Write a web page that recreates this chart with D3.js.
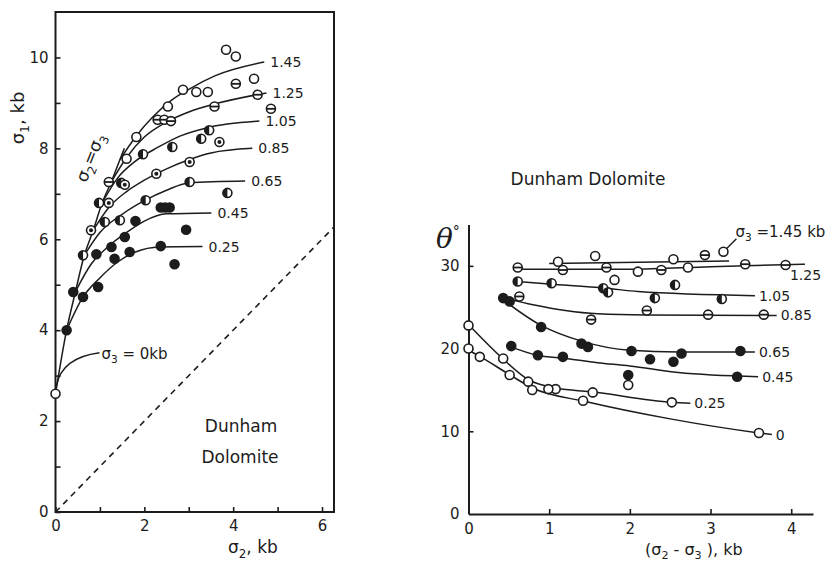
<!DOCTYPE html>
<html>
<head>
<meta charset="utf-8">
<script src="https://cdn.jsdelivr.net/npm/d3@7/dist/d3.min.js"></script>
<style>
  body { margin: 0; background: #fff; }
  text { font-family: "DejaVu Sans", sans-serif; fill: #1c1c1c; }
  .tick text { font-size: 15px; }
</style>
</head>
<body>
<svg id="chart" width="826" height="565"></svg>
<script>
// ---- left panel: sigma1 vs sigma2 for each sigma3 (kb) ----
const leftLevels = ["1.45", "1.25", "1.05", "0.85", "0.65", "0.45", "0.25"];
const leftMarkers = ["open", "bar", "half", "dot", "half", "filled", "filled"];

// hand-fitted curves [sigma2, sigma1]
const leftFits = [
  [[1.45, 7.75], [1.8, 8.25], [2.2, 8.7], [2.6, 9.05], [3.0, 9.3], [3.6, 9.6], [4.7, 9.9]],
  [[1.25, 7.25], [1.6, 7.8], [2.0, 8.25], [2.5, 8.58], [3.0, 8.8], [3.6, 8.98], [4.75, 9.22]],
  [[1.05, 6.8], [1.4, 7.35], [1.8, 7.72], [2.3, 8.02], [2.8, 8.27], [3.4, 8.45], [4.59, 8.6]],
  [[0.85, 6.2], [1.2, 6.7], [1.6, 7.05], [2.0, 7.3], [2.5, 7.55], [3.0, 7.75], [3.5, 7.9], [4.43, 8.0]],
  [[0.65, 5.65], [1.0, 6.15], [1.5, 6.55], [2.0, 6.85], [2.5, 7.08], [3.0, 7.24], [4.27, 7.28]],
  [[0.45, 4.85], [0.8, 5.45], [1.2, 5.85], [1.6, 6.15], [2.0, 6.4], [2.5, 6.56], [3.51, 6.58]],
  [[0.25, 4.0], [0.6, 4.7], [1.0, 5.15], [1.4, 5.5], [1.8, 5.72], [2.35, 5.83], [3.31, 5.84]]
];

// observed points [sigma2, sigma1]
const leftObs = [
  [[1.6, 7.77], [1.82, 8.25], [2.53, 8.92], [2.87, 9.29], [3.17, 9.24], [3.43, 9.24], [3.84, 10.17], [4.06, 10.02], [4.47, 9.53]],
  [[1.2, 7.26], [2.3, 8.63], [2.45, 8.63], [2.6, 8.6], [3.58, 8.92], [4.06, 9.42], [4.55, 9.18], [4.85, 8.87]],
  [[0.98, 6.8], [1.48, 7.24], [1.97, 7.87], [2.63, 8.03], [3.28, 8.21], [3.46, 8.4]],
  [[0.8, 6.2], [1.2, 6.8], [1.56, 7.2], [2.27, 7.44], [3.02, 7.7], [3.69, 8.14]],
  [[0.62, 5.65], [1.11, 6.38], [1.45, 6.42], [2.03, 6.86], [3.02, 7.26], [3.87, 7.02]],
  [[0.4, 4.84], [0.92, 5.67], [1.26, 5.83], [1.56, 6.05], [1.8, 6.4], [2.37, 6.7], [2.47, 6.7], [2.57, 6.7], [2.94, 6.21]],
  [[0.25, 4.0], [0.62, 4.73], [0.96, 4.95], [1.33, 5.57], [1.67, 5.72], [2.37, 5.85], [2.68, 5.45]]
];

// sigma2 = sigma3 envelope and uniaxial point
const envelope = [[0, 2.6], [0.25, 4.0], [0.45, 4.85], [0.65, 5.65], [0.85, 6.2], [1.05, 6.8], [1.25, 7.25], [1.45, 7.75], [1.55, 8.0]];
const uniaxial = [[0, 2.6]];

// ---- right panel: theta vs (sigma2 - sigma3) ----
const rightLevels = ["1.45", "1.25", "1.05", "0.85", "0.65", "0.45", "0.25", "0"];
const rightMarkers = ["open", "bar", "half", "bar", "filled", "filled", "open", "open"];

const rightFits = [
  [[1.0, 30.3], [3.23, 30.6]],
  [[0.6, 29.6], [2.0, 29.6], [3.0, 29.9], [4.17, 30.2]],
  [[0.6, 28.1], [1.0, 27.8], [1.7, 27.3], [2.1, 26.9], [3.55, 26.4]],
  [[0.4, 26.2], [0.8, 25.3], [1.2, 24.6], [1.6, 24.2], [2.2, 24.05], [3.82, 24.0]],
  [[0.4, 26.1], [0.9, 22.8], [1.4, 20.9], [2.0, 19.8], [2.6, 19.6], [3.55, 19.6]],
  [[0.5, 20.3], [0.85, 19.2], [1.2, 18.8], [1.6, 18.3], [2.0, 17.9], [2.6, 17.1], [3.59, 16.6]],
  [[0, 22.9], [0.4, 19.0], [0.75, 16.2], [1.1, 15.2], [1.5, 14.8], [2.52, 13.5], [2.75, 13.4]],
  [[0, 19.8], [0.15, 19.0], [0.5, 16.9], [0.8, 15.2], [1.45, 13.6], [2.5, 11.5], [3.6, 9.8], [3.76, 9.6]]
];

const rightObs = [
  [[1.11, 30.5], [1.57, 31.2], [2.54, 30.8], [2.1, 29.3], [1.81, 28.3], [2.72, 29.8], [3.16, 31.7]],
  [[0.61, 29.8], [1.17, 29.5], [1.71, 29.8], [2.39, 29.5], [2.93, 31.3], [3.43, 30.2], [3.93, 30.1]],
  [[0.61, 28.1], [1.03, 27.9], [1.67, 27.3], [1.73, 26.8], [2.56, 27.7], [2.31, 26.1], [3.14, 26.0]],
  [[0.63, 26.3], [1.52, 23.5], [2.21, 24.6], [2.97, 24.1], [3.66, 24.1]],
  [[0.43, 26.1], [0.51, 25.7], [0.9, 22.6], [1.4, 20.6], [1.48, 20.2], [2.02, 19.7], [2.25, 18.7], [2.54, 18.4], [2.64, 19.4], [3.37, 19.7]],
  [[0.53, 20.3], [0.86, 19.2], [1.17, 19.0], [1.98, 16.8], [3.33, 16.6]],
  [[0, 22.8], [0.43, 18.8], [0.74, 16.0], [1.08, 15.1], [1.54, 14.7], [1.98, 15.6], [2.52, 13.5]],
  [[0, 20.0], [0.14, 19.0], [0.51, 16.8], [0.79, 15.0], [0.99, 15.1], [1.42, 13.7], [3.6, 9.8]]
];

const leftXTicks = [0, 2, 4, 6];
const leftYTicks = [0, 2, 4, 6, 8, 10];
const rightXTicks = [0, 1, 2, 3, 4];
const rightYTicks = [0, 10, 20, 30];

const ink = "#1c1c1c";
const svg = d3.select("#chart");
svg.append("rect").attr("width", 826).attr("height", 565).attr("fill", "#fff");

// marker glyphs
function drawMarker(g, cx, cy, type, r) {
  const m = g.append("g").attr("transform", `translate(${cx},${cy})`);
  m.append("circle")
    .attr("r", r)
    .attr("fill", type === "filled" ? ink : "#fff")
    .attr("stroke", ink)
    .attr("stroke-width", 1.6);
  if (type === "half") {
    m.append("path")
      .attr("d", d3.arc()({ innerRadius: 0, outerRadius: r, startAngle: Math.PI, endAngle: 2 * Math.PI }))
      .attr("fill", ink);
  } else if (type === "bar") {
    m.append("line").attr("x1", -r).attr("x2", r).attr("stroke", ink).attr("stroke-width", 1.8);
  } else if (type === "dot") {
    m.append("circle").attr("r", r * 0.45).attr("fill", ink);
  }
}

// text with subscripts, parts = [[text, isSub], ...]
function richText(g, x, y, parts, size) {
  const t = g.append("text").attr("x", x).attr("y", y).style("font-size", size + "px");
  let shift = 0;
  parts.forEach(([s, sub]) => {
    const target = sub ? size * 0.28 : 0;
    const ts = t.append("tspan").text(s).attr("dy", target - shift);
    if (sub) ts.style("font-size", size * 0.7 + "px");
    shift = target;
  });
  return t;
}

// ======== LEFT PANEL ========
const xL = d3.scaleLinear().domain([0, 6.27]).range([55.5, 334]);
const yL = d3.scaleLinear().domain([0, 11]).range([512, 12]);
const gL = svg.append("g");

// frame
gL.append("rect")
  .attr("x", xL(0)).attr("y", yL(11))
  .attr("width", xL(6.27) - xL(0)).attr("height", yL(0) - yL(11))
  .attr("fill", "none").attr("stroke", ink).attr("stroke-width", 2);

const lxAxis = gL.append("g").attr("transform", `translate(0,${yL(0)})`)
  .call(d3.axisBottom(xL).tickValues(leftXTicks).tickSize(-5).tickPadding(8).tickFormat(d3.format("d")));
const lxMinor = gL.append("g").attr("transform", `translate(0,${yL(0)})`)
  .call(d3.axisBottom(xL).tickValues([1, 3, 5]).tickSize(-5).tickFormat(""));
const lyAxis = gL.append("g").attr("transform", `translate(${xL(0)},0)`)
  .call(d3.axisLeft(yL).tickValues(leftYTicks).tickSize(-5).tickPadding(7).tickFormat(d3.format("d")));
const lyMinor = gL.append("g").attr("transform", `translate(${xL(0)},0)`)
  .call(d3.axisLeft(yL).tickValues([1, 3, 5, 7, 9]).tickSize(-5).tickFormat(""));
[lxAxis, lxMinor, lyAxis, lyMinor].forEach(a => {
  a.select(".domain").remove();
  a.selectAll(".tick line").attr("stroke", ink).attr("stroke-width", 1.6);
  a.selectAll("text").attr("fill", ink).style("font-family", "DejaVu Sans");
});

// sigma1 = sigma2 dashed line
gL.append("line")
  .attr("x1", xL(0)).attr("y1", yL(0))
  .attr("x2", xL(6.27)).attr("y2", yL(6.27))
  .attr("stroke", ink).attr("stroke-width", 1.6).attr("stroke-dasharray", "6,5");

const lineL = d3.line().x(d => xL(d[0])).y(d => yL(d[1])).curve(d3.curveMonotoneX);
const lineLv = d3.line().x(d => xL(d[0])).y(d => yL(d[1])).curve(d3.curveCatmullRom);

gL.append("path").datum(envelope)
  .attr("d", lineLv).attr("fill", "none").attr("stroke", ink).attr("stroke-width", 1.5);

leftFits.forEach((fit, i) => {
  gL.append("path").datum(fit)
    .attr("d", lineL).attr("fill", "none").attr("stroke", ink).attr("stroke-width", 1.5);
  const end = fit[fit.length - 1];
  gL.append("text")
    .attr("x", xL(end[0]) + 6).attr("y", yL(end[1]) + 5)
    .style("font-size", "14px").text(leftLevels[i]);
});

leftObs.forEach((pts, i) => {
  pts.forEach(p => drawMarker(gL, xL(p[0]), yL(p[1]), leftMarkers[i], 4.5));
});
uniaxial.forEach(p => drawMarker(gL, xL(p[0]), yL(p[1]), "open", 4.5));

// sigma3 = 0 kb annotation
const u0 = [xL(uniaxial[0][0]), yL(uniaxial[0][1])];
gL.append("path")
  .attr("d", `M${u0[0] + 1},${u0[1] - 8} Q${u0[0] + 6},${u0[1] - 36} ${u0[0] + 44},${u0[1] - 41}`)
  .attr("fill", "none").attr("stroke", ink).attr("stroke-width", 1.4);
richText(gL, u0[0] + 46, u0[1] - 35, [["σ", false], ["3", true], [" = 0kb", false]], 15);

// sigma2 = sigma3 label along envelope
const envLbl = richText(gL, 0, 0, [["σ", false], ["2", true], ["=σ", false], ["3", true]], 17);
envLbl.attr("text-anchor", "middle")
  .attr("transform", `translate(${xL(0.95) - 2},${yL(7.75)}) rotate(-68)`);

// axis titles
const yTitle = richText(gL, 0, 0, [["σ", false], ["1", true], [", kb", false]], 18);
yTitle.attr("text-anchor", "middle").attr("transform", "translate(24,118) rotate(-90)");
richText(gL, 228, 553, [["σ", false], ["2", true], [", kb", false]], 17);

gL.append("text").attr("x", 241).attr("y", 432).attr("text-anchor", "middle")
  .style("font-size", "17px").text("Dunham");
gL.append("text").attr("x", 240).attr("y", 463).attr("text-anchor", "middle")
  .style("font-size", "17px").text("Dolomite");

// ======== RIGHT PANEL ========
const xR = d3.scaleLinear().domain([0, 4.27]).range([468.5, 813]);
const yR = d3.scaleLinear().domain([0, 35]).range([514, 224.5]);
const gR = svg.append("g");

const rxAxis = gR.append("g").attr("transform", `translate(0,${yR(0)})`)
  .call(d3.axisBottom(xR).tickValues(rightXTicks).tickSize(-5).tickSizeOuter(0).tickPadding(9).tickFormat(d3.format("d")));
const ryAxis = gR.append("g").attr("transform", `translate(${xR(0)},0)`)
  .call(d3.axisLeft(yR).tickValues(rightYTicks).tickSize(-5).tickSizeOuter(0).tickPadding(9).tickFormat(d3.format("d")));
[rxAxis, ryAxis].forEach(a => {
  a.select(".domain").attr("stroke", ink).attr("stroke-width", 2);
  a.selectAll(".tick line").attr("stroke", ink).attr("stroke-width", 1.6);
  a.selectAll("text").attr("fill", ink).style("font-family", "DejaVu Sans");
});
rxAxis.selectAll(".tick").filter(d => d === 0).select("line").remove();
ryAxis.selectAll(".tick").filter(d => d === 0).select("line").remove();

const lineR = d3.line().x(d => xR(d[0])).y(d => yR(d[1])).curve(d3.curveMonotoneX);

rightFits.forEach((fit, i) => {
  gR.append("path").datum(fit)
    .attr("d", lineR).attr("fill", "none").attr("stroke", ink).attr("stroke-width", 1.5);
  if (i === 0) return;
  const end = fit[fit.length - 1];
  const below = rightLevels[i] === "1.25";
  gR.append("text")
    .attr("x", xR(end[0]) + (below ? -15 : 4))
    .attr("y", yR(end[1]) + (below ? 16 : 5))
    .style("font-size", "14px").text(rightLevels[i]);
});

rightObs.forEach((pts, i) => {
  pts.forEach(p => drawMarker(gR, xR(p[0]), yR(p[1]), rightMarkers[i], 4.5));
});

// sigma3 = 1.45 kb annotation with leader from its last point
const lead = rightObs[0][rightObs[0].length - 1];
const lp = [xR(lead[0]), yR(lead[1])];
gR.append("line")
  .attr("x1", lp[0] + 3).attr("y1", lp[1] - 3)
  .attr("x2", lp[0] + 13).attr("y2", lp[1] - 13)
  .attr("stroke", ink).attr("stroke-width", 1.4);
richText(gR, lp[0] + 12, lp[1] - 15, [["σ", false], ["3", true], [" =1.45 kb", false]], 15);

// titles
gR.append("text").attr("x", 588).attr("y", 185).attr("text-anchor", "middle")
  .style("font-size", "17px").text("Dunham Dolomite");

const th = gR.append("text").attr("x", 436).attr("y", 248)
  .style("font-family", "DejaVu Serif").style("font-style", "italic").style("font-size", "28px");
th.append("tspan").text("θ");
th.append("tspan").attr("dy", -12).style("font-size", "14px").style("font-style", "normal").text("°");

richText(gR, 645, 555, [["(σ", false], ["2", true], [" - σ", false], ["3", true], [" ), kb", false]], 16);
</script>
</body>
</html>
